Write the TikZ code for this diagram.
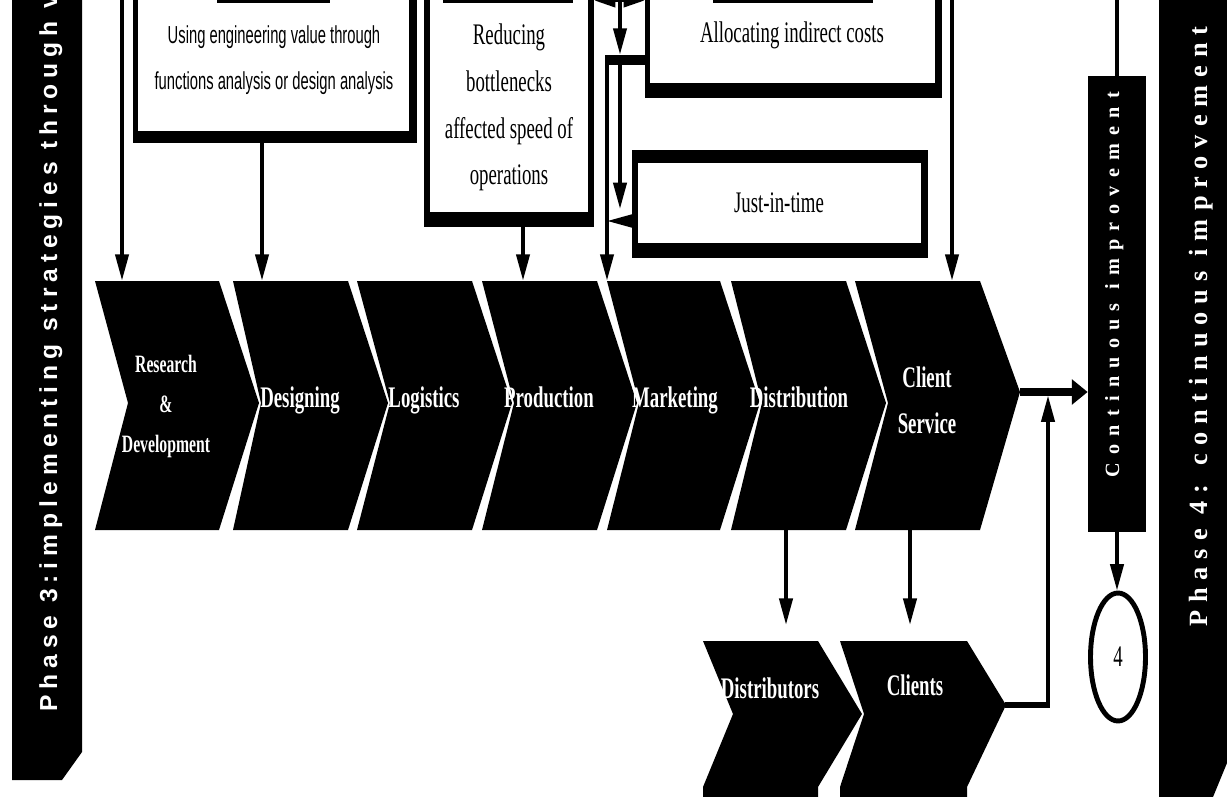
\documentclass[tikz,border=0pt]{standalone}
\usepackage{fontspec}
\usetikzlibrary{arrows.meta,fit,shapes.geometric}
\newfontfamily\condserif[FakeStretch=0.63]{Liberation Serif}
\newfontfamily\condsans[FakeStretch=0.6]{Liberation Sans}
\newfontfamily\widesans[LetterSpace=24]{Liberation Sans}
\newfontfamily\wideserif[LetterSpace=30]{Liberation Serif}
\newfontfamily\ciserif[LetterSpace=41]{Liberation Serif}
\begin{document}
\begin{tikzpicture}[x=0.02cm,y=-0.02cm,
  conn/.style={line width=2pt},
  arr/.style={line width=2pt,-{Triangle[length=15pt,width=7.5pt]}},
  dblarr/.style={line width=2pt,{Triangle[length=12pt,width=7.5pt]}-{Triangle[length=12pt,width=7.5pt]}},
  fatarr/.style={line width=4pt,-{Triangle[length=9pt,width=14pt]}},
  boxout/.style={fill=black,inner sep=0pt},
  holder/.style={inner sep=0pt},
  boxtxt/.style={font=\condserif\fontsize{17}{26.6}\selectfont,align=center,anchor=base,inner sep=0pt},
  boxsans/.style={font=\condsans\fontsize{14}{26.6}\selectfont,align=center,anchor=base,inner sep=0pt},
  chevtxt/.style={font=\condserif\bfseries\fontsize{17}{26}\selectfont,text=white,align=center,anchor=base,inner sep=0pt},
  vtxt/.style={rotate=90,anchor=base west,inner sep=0pt,text=white},
]
\useasboundingbox (0,0) rectangle (1227,797);
\clip (0,0) rectangle (1227,797);

% side bars
\fill[black] (12,-5) -- (82,-5) -- (82,752) -- (62,780) -- (12,780) -- cycle;
\node[holder, fit={(12,0)(82,780)}] (p3bar) {};
\node[vtxt, font=\widesans\bfseries\fontsize{14}{15}\selectfont] (ph3) at (57,712) {Phase 3:implementing strategies through v};
\fill[black] (1159,-5) -- (1227,-5) -- (1227,763) -- (1213,797) -- (1159,797) -- cycle;
\node[holder, fit={(1159,0)(1227,797)}] (p4bar) {};
\node[vtxt, font=\wideserif\bfseries\fontsize{15}{16}\selectfont] (ph4) at (1207,627) {Phase 4: continuous im\kern5pt provement};

% continuous improvement bar
\node[boxout, fit={(1088,76)(1146,532)}] (ci) {};
\node[vtxt, font=\ciserif\bfseries\fontsize{11.5}{12}\selectfont] (citxt) at (1119,478) {Continuous improvement};
\node[draw, ellipse, line width=2.8pt, minimum width=1.1cm, minimum height=2.56cm, inner sep=0pt,
      font=\condserif\fontsize{17}{20}\selectfont] (four) at (1118,657) {4};

% top boxes
\node[boxout, fit={(133,-20)(417,143)}] (boxA) {};
\fill[white] (138,-20) rectangle (409,131);
\fill[black] (217,0) rectangle (330,3);
\node[boxsans] (txtA) at (274,90) {Using engineering value through\\functions analysis or design analysis};

\node[boxout, fit={(424,-20)(594,227)}] (boxB) {};
\fill[white] (430,-20) rectangle (588,212);
\fill[black] (443,0) rectangle (573,3);
\node[boxtxt] (txtB) at (509,185) {Reducing\\bottlenecks\\affected speed of\\operations};

\node[boxout, fit={(645,-20)(942,98)}] (boxC) {};
\fill[white] (650,-20) rectangle (935,83);
\fill[black] (713,0) rectangle (873,3);
\node[boxtxt] (txtC) at (792,43) {Allocating indirect costs};

\node[boxout, fit={(632,150)(928,258)}] (jit) {};
\fill[white] (638,163) rectangle (921,243);
\node[boxtxt] (txtJ) at (779,213) {Just-in-time};

% main chevrons
\fill[black] (95,281) -- (219,281) -- (259,403) -- (219,530) -- (95,530) -- (128,403) -- cycle;
\fill[black] (233,281) -- (348,281) -- (388,403) -- (348,530) -- (233,530) -- (261,403) -- cycle;
\fill[black] (357,281) -- (472,281) -- (512,403) -- (472,530) -- (357,530) -- (390,403) -- cycle;
\fill[black] (482,281) -- (597,281) -- (637,403) -- (597,530) -- (482,530) -- (514,403) -- cycle;
\fill[black] (607,281) -- (720,281) -- (760,403) -- (720,530) -- (607,530) -- (639,403) -- cycle;
\fill[black] (731,281) -- (846,281) -- (886,403) -- (846,530) -- (731,530) -- (762,403) -- cycle;
\fill[black] (855,281) -- (980,281) -- (1020,392) -- (980,530) -- (855,530) -- (888,403) -- cycle;
\node[holder, fit={(95,281)(259,530)}] (rd) {};
\node[holder, fit={(233,281)(388,530)}] (dsg) {};
\node[holder, fit={(357,281)(512,530)}] (log) {};
\node[holder, fit={(482,281)(637,530)}] (prod) {};
\node[holder, fit={(607,281)(760,530)}] (mkt) {};
\node[holder, fit={(731,281)(886,530)}] (dist) {};
\node[holder, fit={(855,281)(1020,530)}] (cs) {};
\node[chevtxt, font=\condserif\bfseries\fontsize{14.2}{22.7}\selectfont] (trd) at (166,452) {Research\\\&\\Development};
\node[chevtxt] (tdsg) at (300,407) {Designing};
\node[chevtxt] (tlog) at (424,407) {Logistics};
\node[chevtxt] (tprod) at (549,407) {Production};
\node[chevtxt] (tmkt) at (675,407) {Marketing};
\node[chevtxt] (tdist) at (799,407) {Distribution};
\node[chevtxt] (tcs) at (927,433) {Client\\Service};

% bottom chevrons
\fill[black] (703,641) -- (818,641) -- (862,714) -- (818,787) -- (818,800) -- (703,800) -- (703,787) -- (733,714) -- cycle;
\fill[black] (840,641) -- (967,641) -- (1006,705) -- (967,787) -- (967,800) -- (840,800) -- (840,787) -- (864,714) -- cycle;
\node[holder, fit={(703,641)(862,797)}] (dtor) {};
\node[holder, fit={(840,641)(1006,797)}] (cli) {};
\node[chevtxt] (tdtor) at (770,698) {Distributors};
\node[chevtxt] (tcli) at (915,695) {Clients};

% connectors
\coordinate (inRD) at (122,-10);
\draw[arr] (inRD) -- (inRD |- rd.north);
\coordinate (xA) at (262,0);
\draw[arr] (xA |- boxA.south) -- (xA |- dsg.north);
\coordinate (xB) at (523,0);
\draw[arr] (xB |- boxB.south) -- (xB |- prod.north);

\coordinate (topY) at (0,0.5);
\draw[dblarr] (boxB.east |- topY) -- (boxC.west |- topY);
\node[boxout, fit={(605,55)(645,65)}] (cbar) {};
\coordinate (vTop) at (620,-10);
\draw[arr] (vTop) -- (vTop |- cbar.north);
\coordinate (vEnd) at (620,209);
\draw[arr] (vTop |- cbar.south) -- (vEnd);
\coordinate (mk) at (607,0);
\draw[arr] (mk |- cbar.center) -- (mk |- mkt.north);
\coordinate (jitY) at (0,221);
\draw[arr] (jit.west |- jitY) -- (mk |- jitY);

\coordinate (inCS) at (952,-10);
\draw[arr] (inCS) -- (inCS |- cs.north);
\coordinate (ciTop) at (1117,-10);
\draw[conn] (ciTop) -- (ciTop |- ci.north);

\coordinate (csTip) at (1020,392);
\draw[fatarr] (csTip) -- (csTip -| ci.west);
\coordinate (clTip) at (1005,705);
\coordinate (jn) at (1050,705);
\draw[line width=3.4pt] (clTip) -- (jn);
\coordinate (jnv) at (1048,707);
\draw[arr, shorten >=2pt] (jnv) -- (jnv |- csTip);

\coordinate (xD) at (786,0);
\draw[arr, shorten >=9pt] (xD |- dist.south) -- (xD |- dtor.north);
\coordinate (xC) at (910,0);
\draw[arr, shorten >=9pt] (xC |- cs.south) -- (xC |- cli.north);
\draw[arr] (ci.south) -- (ci.south |- four.north);
\end{tikzpicture}
\end{document}
